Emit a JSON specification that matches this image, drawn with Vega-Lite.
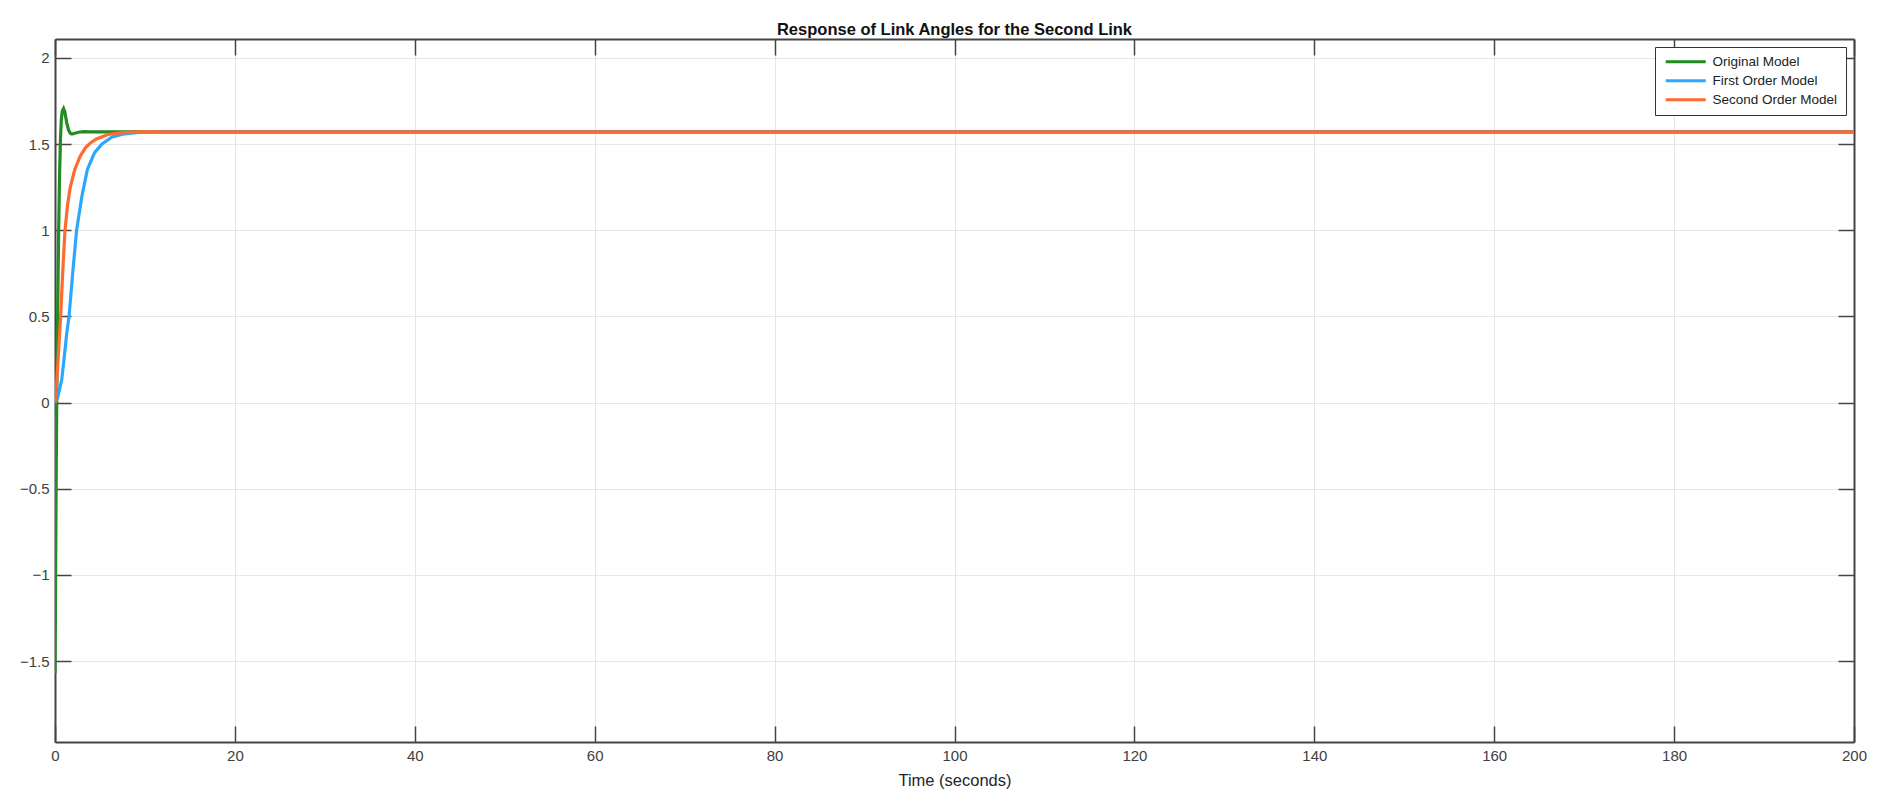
{
  "$schema": "https://vega.github.io/schema/vega-lite/v6.json",
  "autosize": "none",
  "width": 1799,
  "height": 703,
  "padding": {"left": 55, "top": 39, "right": 40, "bottom": 70},
  "background": "white",
  "title": {
    "text": "Response of Link Angles for the Second Link",
    "font": "Liberation Sans",
    "fontSize": 16.5,
    "fontWeight": "bold",
    "color": "#111",
    "anchor": "middle",
    "offset": 0
  },
  "config": {
    "view": {"stroke": null},
    "font": "Liberation Sans",
    "axis": {
      "labelFont": "Liberation Sans",
      "labelFontSize": 15,
      "labelColor": "#404040",
      "titleFont": "Liberation Sans",
      "titleFontSize": 16.5,
      "titleFontWeight": "normal",
      "titleColor": "#262626",
      "domainColor": "#444",
      "domainWidth": 2,
      "tickColor": "#444",
      "tickWidth": 1.5,
      "tickSize": -16,
      "gridColor": "#e6e6e6",
      "gridWidth": 1
    }
  },
  "data": {"values": [
    {"t": 0, "v": -1.5708, "model": "Original Model"},
    {"t": 0.05, "v": -1.15, "model": "Original Model"},
    {"t": 0.1, "v": -0.7, "model": "Original Model"},
    {"t": 0.15, "v": -0.3, "model": "Original Model"},
    {"t": 0.2, "v": 0.05, "model": "Original Model"},
    {"t": 0.3, "v": 0.55, "model": "Original Model"},
    {"t": 0.4, "v": 0.97, "model": "Original Model"},
    {"t": 0.5, "v": 1.3, "model": "Original Model"},
    {"t": 0.6, "v": 1.52, "model": "Original Model"},
    {"t": 0.7, "v": 1.64, "model": "Original Model"},
    {"t": 0.8, "v": 1.69, "model": "Original Model"},
    {"t": 0.95, "v": 1.706, "model": "Original Model"},
    {"t": 1.1, "v": 1.685, "model": "Original Model"},
    {"t": 1.3, "v": 1.625, "model": "Original Model"},
    {"t": 1.5, "v": 1.583, "model": "Original Model"},
    {"t": 1.7, "v": 1.563, "model": "Original Model"},
    {"t": 1.9, "v": 1.558, "model": "Original Model"},
    {"t": 2.2, "v": 1.563, "model": "Original Model"},
    {"t": 2.6, "v": 1.569, "model": "Original Model"},
    {"t": 3.2, "v": 1.572, "model": "Original Model"},
    {"t": 4, "v": 1.5708, "model": "Original Model"},
    {"t": 200, "v": 1.5708, "model": "Original Model"},
    {"t": 0, "v": 0, "model": "First Order Model"},
    {"t": 0.3, "v": 0.03, "model": "First Order Model"},
    {"t": 0.74, "v": 0.13, "model": "First Order Model"},
    {"t": 1.0, "v": 0.25, "model": "First Order Model"},
    {"t": 1.3, "v": 0.4, "model": "First Order Model"},
    {"t": 1.56, "v": 0.5, "model": "First Order Model"},
    {"t": 2.0, "v": 0.77, "model": "First Order Model"},
    {"t": 2.4, "v": 1.0, "model": "First Order Model"},
    {"t": 3.0, "v": 1.2, "model": "First Order Model"},
    {"t": 3.6, "v": 1.353, "model": "First Order Model"},
    {"t": 4.4, "v": 1.45, "model": "First Order Model"},
    {"t": 5.2, "v": 1.5, "model": "First Order Model"},
    {"t": 6.3, "v": 1.54, "model": "First Order Model"},
    {"t": 7.5, "v": 1.558, "model": "First Order Model"},
    {"t": 9, "v": 1.566, "model": "First Order Model"},
    {"t": 10.5, "v": 1.5695, "model": "First Order Model"},
    {"t": 12, "v": 1.5706, "model": "First Order Model"},
    {"t": 14, "v": 1.5708, "model": "First Order Model"},
    {"t": 200, "v": 1.5708, "model": "First Order Model"},
    {"t": 0, "v": 0, "model": "Second Order Model"},
    {"t": 0.2, "v": 0.12, "model": "Second Order Model"},
    {"t": 0.4, "v": 0.3, "model": "Second Order Model"},
    {"t": 0.63, "v": 0.5, "model": "Second Order Model"},
    {"t": 0.85, "v": 0.75, "model": "Second Order Model"},
    {"t": 1.11, "v": 1.0, "model": "Second Order Model"},
    {"t": 1.4, "v": 1.15, "model": "Second Order Model"},
    {"t": 1.7, "v": 1.25, "model": "Second Order Model"},
    {"t": 2.2, "v": 1.353, "model": "Second Order Model"},
    {"t": 2.8, "v": 1.43, "model": "Second Order Model"},
    {"t": 3.4, "v": 1.48, "model": "Second Order Model"},
    {"t": 3.9, "v": 1.505, "model": "Second Order Model"},
    {"t": 4.6, "v": 1.53, "model": "Second Order Model"},
    {"t": 5.9, "v": 1.556, "model": "Second Order Model"},
    {"t": 7, "v": 1.564, "model": "Second Order Model"},
    {"t": 8.5, "v": 1.569, "model": "Second Order Model"},
    {"t": 10, "v": 1.5705, "model": "Second Order Model"},
    {"t": 12, "v": 1.5708, "model": "Second Order Model"},
    {"t": 200, "v": 1.5708, "model": "Second Order Model"}
  ]},
  "layer": [
    {
      "mark": {"type": "line", "strokeWidth": 3.2, "clip": true},
      "encoding": {
        "x": {
          "field": "t", "type": "quantitative",
          "scale": {"domain": [0, 200], "nice": false, "zero": false},
          "axis": {
            "orient": "bottom",
            "title": "Time (seconds)",
            "values": [0, 20, 40, 60, 80, 100, 120, 140, 160, 180, 200],
            "grid": true,
            "labelPadding": 22,
            "titlePadding": 9,
            "labelFlush": false
          }
        },
        "y": {
          "field": "v", "type": "quantitative",
          "scale": {"domain": [-1.97, 2.11], "nice": false, "zero": false},
          "axis": {
            "orient": "left",
            "title": null,
            "values": [-1.5, -1, -0.5, 0, 0.5, 1, 1.5, 2],
            "format": "~g",
            "grid": true,
            "labelPadding": 22,
            "labelFlush": false
          }
        },
        "color": {
          "field": "model", "type": "nominal",
          "scale": {
            "domain": ["Original Model", "First Order Model", "Second Order Model"],
            "range": ["#228b22", "#2aa8ff", "#ff6a2f"]
          },
          "legend": {
            "title": null,
            "orient": "top-right",
            "offset": 8,
            "strokeColor": "#333",
            "fillColor": "white",
            "padding": 8,
            "symbolType": "M-4,0H4",
            "symbolSize": 100,
            "symbolStrokeWidth": 3,
            "symbolOffset": 16,
            "labelFont": "Liberation Sans",
            "labelFontSize": 13.5,
            "labelColor": "#222",
            "labelOffset": 20,
            "rowPadding": 4
          }
        }
      }
    },
    {
      "mark": {"type": "line", "strokeOpacity": 0},
      "encoding": {
        "x": {
          "field": "t", "type": "quantitative",
          "axis": {
            "orient": "top",
            "title": null,
            "labels": false,
            "grid": false,
            "values": [0, 20, 40, 60, 80, 100, 120, 140, 160, 180, 200]
          }
        },
        "y": {
          "field": "v", "type": "quantitative",
          "axis": {
            "orient": "right",
            "title": null,
            "labels": false,
            "grid": false,
            "values": [-1.5, -1, -0.5, 0, 0.5, 1, 1.5, 2]
          }
        }
      }
    }
  ],
  "resolve": {"axis": {"x": "independent", "y": "independent"}}
}
